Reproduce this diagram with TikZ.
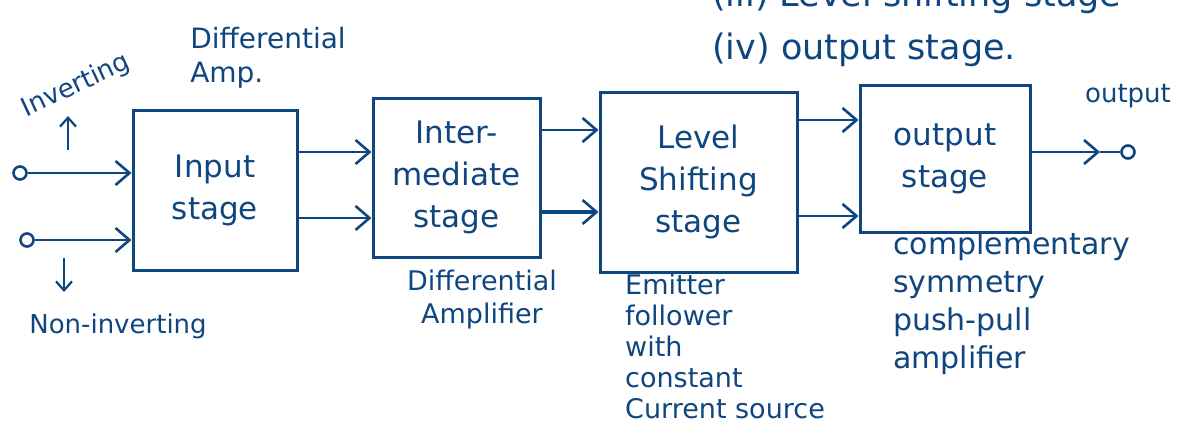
\documentclass[tikz,border=0pt]{standalone}
\usepackage{fontspec}
\setmainfont{DejaVu Sans}
\usetikzlibrary{arrows.meta}
\definecolor{ink}{RGB}{16,70,128}
\tikzset{
  blockbox/.style={draw=ink, line width=3pt, align=center, text=ink, font=\fontsize{31}{42}\selectfont, inner sep=0pt},
  lbl/.style={text=ink, align=center, font=\fontsize{26}{33}\selectfont, inner sep=0pt},
  arr/.style={draw=ink, line width=2.6pt, -{Straight Barb[length=14pt,width=24pt,line width=2.6pt]}},
  wire/.style={draw=ink, line width=2.6pt},
  term/.style={draw=ink, line width=2.6pt, circle, minimum size=13pt, inner sep=0pt},
}
\begin{document}
\begin{tikzpicture}[x=1pt,y=-1pt]
\useasboundingbox (0,0) rectangle (1203,445);
\begin{scope}
\clip (0,0) rectangle (1203,445);
\node[lbl, anchor=west, font=\fontsize{35}{38}\selectfont] (iii) at (712,-3) {(iii) Level shifting stage};
\end{scope}
% blocks
\node[blockbox, minimum width=164pt, minimum height=160pt] (inp) at (215,190) {Input\\stage};
\node[blockbox, minimum width=167pt, minimum height=159pt] (mid) at (456.5,177.5) {Inter-\\mediate\\stage};
\node[blockbox, minimum width=197pt, minimum height=180pt] (lev) at (698.5,182) {Level\\Shifting\\stage};
\node[blockbox, minimum width=170pt, minimum height=147pt] (out) at (945,158.5) {output\\stage};
% input terminals
\node[term] (tinv) at (20,173) {};
\node[term] (tnon) at (27,240) {};
\draw[arr] (tinv.east) -- (inp.west |- tinv);
\draw[arr] (tnon.east) -- (inp.west |- tnon);
% inter-stage connectors
\draw[arr] (inp.east |- 0,152) -- (mid.west |- 0,152);
\draw[arr] (inp.east |- 0,218) -- (mid.west |- 0,218);
\draw[arr] (mid.east |- 0,130) -- (lev.west |- 0,130);
\draw[arr, line width=4pt] (mid.east |- 0,212) -- (lev.west |- 0,212);
\draw[arr] (lev.east |- 0,120) -- (out.west |- 0,120);
\draw[arr] (lev.east |- 0,216) -- (out.west |- 0,216);
% output terminal
\node[term] (tout) at (1128,152) {};
\coordinate (obarb) at (1100,152);
\draw[arr] (out.east |- tout) -- (obarb);
\draw[wire] (obarb) -- (tout.west);
% small direction arrows under / over labels
\coordinate (invA) at (68,150);
\coordinate (invB) at (68,116);
\draw[arr, -{Straight Barb[length=9pt,width=16pt,line width=2.2pt]}] (invA) -- (invB);
\coordinate (nonA) at (64,258);
\coordinate (nonB) at (64,292);
\draw[arr, -{Straight Barb[length=9pt,width=16pt,line width=2.2pt]}] (nonA) -- (nonB);
% labels
\node[lbl, rotate=25, font=\fontsize{26}{30}\selectfont] (linv) at (76,86) {Inverting};
\node[lbl, align=left, font=\fontsize{28}{34}\selectfont] (ldiff) at (268,58) {Differential\\Amp.};
\node[lbl] (lnon) at (118,326) {Non-inverting};
\node[lbl, font=\fontsize{27}{33}\selectfont] (lmid) at (482,300) {Differential\\Amplifier};
\node[lbl, align=left, font=\fontsize{27}{31}\selectfont, anchor=north west] (llev) at (625,274) {Emitter\\follower\\with\\constant\\Current source};
\node[lbl, align=left, font=\fontsize{30}{38}\selectfont, anchor=north west] (lout) at (893,232) {complementary\\symmetry\\push-pull\\amplifier};
\node[lbl, font=\fontsize{26}{28}\selectfont] (lo) at (1128,96) {output};
\node[lbl, anchor=west, font=\fontsize{35}{38}\selectfont] (iv) at (712,50) {(iv) output stage.};
\end{tikzpicture}
\end{document}
